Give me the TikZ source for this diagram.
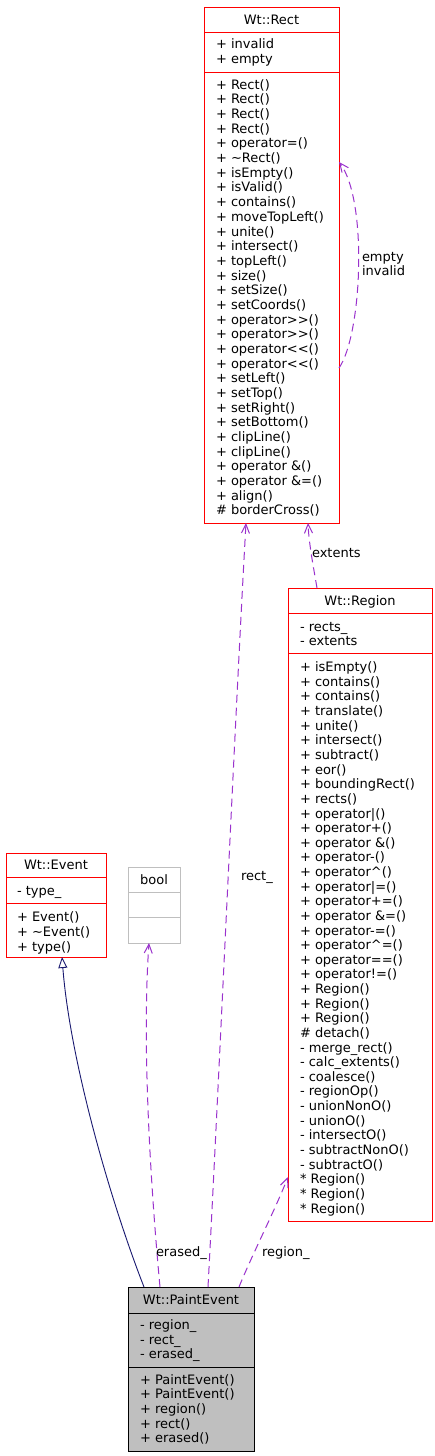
\documentclass[tikz,border=0pt]{standalone}
\usepackage{fontspec}
\setmainfont{DejaVu Sans}
\usetikzlibrary{arrows.meta,calc}
\definecolor{edgep}{HTML}{9A32CD}
\definecolor{inh}{HTML}{191970}
\definecolor{lgray}{HTML}{BFBFBF}
\begin{document}
\begin{tikzpicture}[x=1pt,y=-1pt,
  box/.style={line width=1pt, inner sep=0pt, outer sep=0pt, anchor=north west},
  redbox/.style={box, draw=red},
  graybox/.style={box, draw=lgray},
  pebox/.style={box, draw=black, fill=lgray},
  txt/.style={inner sep=0pt, outer sep=0pt, font=\fontsize{13}{14}\selectfont, anchor=base west},
  hdr/.style={txt, anchor=base},
  lbl/.style={txt},
  dep/.style={draw=edgep, line width=1pt, dash pattern=on 8pt off 5pt, -{Straight Barb[length=9pt,width=8pt]}},
  inher/.style={draw=inh, line width=0.9pt, -{Triangle[open,length=11pt,width=9pt,fill=white]}}
]
\useasboundingbox (0,0) rectangle (435,1456);
\fill[white] (0,0) rectangle (435,1456);

% ---------- Wt::Rect ----------
\node[redbox, minimum width=135pt, minimum height=516pt] (rect) at (204,7) {};
\draw[red, line width=1pt] ($(rect.north west)+(0,25)$) -- ($(rect.north east)+(0,25)$);
\draw[red, line width=1pt] ($(rect.north west)+(0,65)$) -- ($(rect.north east)+(0,65)$);
\node[hdr] (recth) at (271.5,24) {Wt::Rect};
\node[txt] (ra0) at (216,48.5) {+ invalid};
\node[txt] (ra1) at (216,63.2) {+ empty};
\foreach \t [count=\i from 0] in {+ Rect(),+ Rect(),+ Rect(),+ Rect(),+ operator=(),+ \textasciitilde Rect(),+ isEmpty(),+ isValid(),+ contains(),+ moveTopLeft(),+ unite(),+ intersect(),+ topLeft(),+ size(),+ setSize(),+ setCoords(),+ operator>{}>(),+ operator>{}>(),+ operator<{}<(),+ operator<{}<(),+ setLeft(),+ setTop(),+ setRight(),+ setBottom(),+ clipLine(),+ clipLine(),+ operator \&(),+ operator \&=(),+ align(),\# borderCross()}
  \node[txt] (rm\i) at (216,{89.3+14.67*\i}) {\t};

% ---------- Wt::Region ----------
\node[redbox, minimum width=144pt, minimum height=633pt] (region) at (288,588) {};
\draw[red, line width=1pt] ($(region.north west)+(0,25)$) -- ($(region.north east)+(0,25)$);
\draw[red, line width=1pt] ($(region.north west)+(0,65)$) -- ($(region.north east)+(0,65)$);
\node[hdr] (regionh) at (360,605.5) {Wt::Region};
\node[txt] (ga0) at (300,631) {- rects\_};
\node[txt] (ga1) at (300,645.7) {- extents};
\foreach \t [count=\i from 0] in {+ isEmpty(),+ contains(),+ contains(),+ translate(),+ unite(),+ intersect(),+ subtract(),+ eor(),+ boundingRect(),+ rects(),+ operator|(),+ operator+(),+ operator \&(),+ operator-(),+ operator\textasciicircum(),+ operator|=(),+ operator+=(),+ operator \&=(),+ operator-=(),+ operator\textasciicircum=(),+ operator==(),+ operator!=(),+ Region(),+ Region(),+ Region(),\# detach(),- merge\_rect(),- calc\_extents(),- coalesce(),- regionOp(),- unionNonO(),- unionO(),- intersectO(),- subtractNonO(),- subtractO(),* Region(),* Region(),* Region()}
  \node[txt] (gm\i) at (300,{671.7+14.63*\i}) {\t};

% ---------- Wt::Event ----------
\node[redbox, minimum width=100pt, minimum height=104pt] (event) at (6,853) {};
\draw[red, line width=1pt] ($(event.north west)+(0,24)$) -- ($(event.north east)+(0,24)$);
\draw[red, line width=1pt] ($(event.north west)+(0,50)$) -- ($(event.north east)+(0,50)$);
\node[hdr] (eventh) at (56,869) {Wt::Event};
\node[txt] (ea0) at (17,895) {- type\_};
\node[txt] (em0) at (17,921.7) {+ Event()};
\node[txt] (em1) at (17,936.3) {+ \textasciitilde Event()};
\node[txt] (em2) at (17,951) {+ type()};

% ---------- bool ----------
\node[graybox, minimum width=52pt, minimum height=76pt] (bool) at (128,867) {};
\draw[lgray, line width=1pt] ($(bool.north west)+(0,25)$) -- ($(bool.north east)+(0,25)$);
\draw[lgray, line width=1pt] ($(bool.north west)+(0,50)$) -- ($(bool.north east)+(0,50)$);
\node[hdr] (boolh) at (154,884) {bool};

% ---------- Wt::PaintEvent ----------
\node[pebox, minimum width=126pt, minimum height=164pt] (pe) at (128,1287) {};
\draw[black, line width=1pt] ($(pe.north west)+(0,26)$) -- ($(pe.north east)+(0,26)$);
\draw[black, line width=1pt] ($(pe.north west)+(0,80)$) -- ($(pe.north east)+(0,80)$);
\node[hdr] (peh) at (191,1304) {Wt::PaintEvent};
\node[txt] (pa0) at (140,1329.3) {- region\_};
\node[txt] (pa1) at (140,1344) {- rect\_};
\node[txt] (pa2) at (140,1358.6) {- erased\_};
\foreach \t [count=\i from 0] in {+ PaintEvent(),+ PaintEvent(),+ region(),+ rect(),+ erased()}
  \node[txt] (pm\i) at (140,{1384+14.67*\i}) {\t};

% ---------- connectors ----------
\draw[dep] ($(rect.north east)+(0,361)$) .. controls (362,335) and (368,200) .. ($(rect.north east)+(0,155)$);
\node[lbl] (lempty) at (362,261) {empty};
\node[lbl] (linvalid) at (362,275) {invalid};

\draw[dep] ($(region.north west)+(29,0)$) .. controls (314,570) and (309,545) .. ($(rect.south west)+(104,0)$);
\node[lbl] (lextents) at (312,557) {extents};

\draw[dep] ($(pe.north west)+(80,0)$) .. controls (218,1100) and (236,700) .. ($(rect.south west)+(42,0)$);
\node[lbl] (lrect) at (241,880) {rect\_};

\draw[dep] ($(pe.north west)+(111,0)$) .. controls (252,1255) and (275,1210) .. ($(region.south west)+(0,-44)$);
\node[lbl] (lregion) at (262,1256) {region\_};

\draw[dep] ($(pe.north west)+(32,0)$) .. controls (150,1180) and (142,1040) .. ($(bool.south west)+(21,0)$);
\node[lbl] (lerased) at (156,1256) {erased\_};

\draw[inher] ($(pe.north west)+(16,0)$) .. controls (110,1200) and (70,1060) .. ($(event.south west)+(56,0)$);
\end{tikzpicture}
\end{document}
